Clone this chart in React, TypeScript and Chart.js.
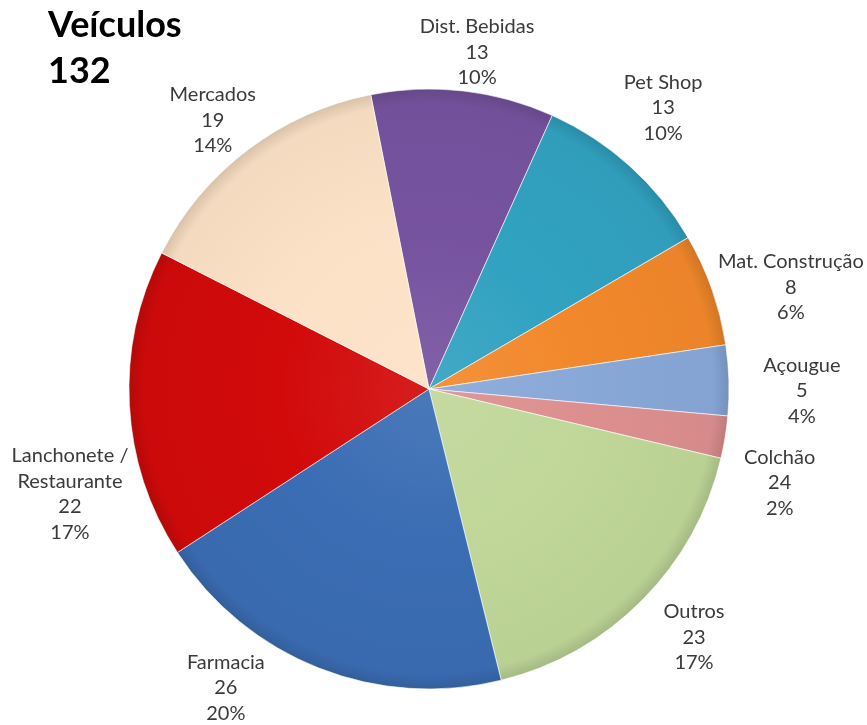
import React, { useEffect, useRef } from "react";
import { Chart, registerables } from "chart.js";

Chart.register(...registerables);

// ---- data ----
const categories = [
  "Dist. Bebidas",
  "Pet Shop",
  "Mat. Construção",
  "Açougue",
  "Colchão",
  "Outros",
  "Farmacia",
  "Lanchonete /\nRestaurante",
  "Mercados",
];
const vehicleCounts = [13, 13, 8, 5, 3, 23, 26, 22, 19];
// counts as printed in the reference's labels (Colchão is printed as "24")
const countLabels = ["13", "13", "8", "5", "24", "23", "26", "22", "19"];
const titleLines = ["Veículos", "132"];

// ---- styles ----
const sliceColors = [
  "#77539F",
  "#31A2C1",
  "#F2882B",
  "#88A8D8",
  "#DD8F8F",
  "#C0D799",
  "#3B6DB4",
  "#D20A0A",
  "#FCE2C6",
];
// label placement: angle offset (deg) from slice middle, distance as factor of radius
const labelLayout = [
  { da: 1.6, f: 1.134 },
  { da: -2.2, f: 1.22 },
  { da: 3.7, f: 1.253 },
  { da: 1.9, f: 1.243 },
  { da: 5.7, f: 1.21 },
  { da: -1.6, f: 1.21 },
  { da: 12.7, f: 1.204 },
  { da: -13.3, f: 1.247 },
  { da: -1.7, f: 1.15 },
];
const PIE_RADIUS = 300;
const LABEL_FONT = "20px Lato, 'Open Sans', sans-serif";
const TITLE_FONT = "bold 36px Lato, 'Open Sans', sans-serif";

function shade(hex: string, amt: number): string {
  const n = parseInt(hex.slice(1), 16);
  let r = (n >> 16) & 255, g = (n >> 8) & 255, b = n & 255;
  const f = (c: number) =>
    Math.round(amt >= 0 ? c + (255 - c) * amt : c * (1 + amt));
  r = f(r); g = f(g); b = f(b);
  return `rgb(${r},${g},${b})`;
}

const labelPlugin = {
  id: "sliceLabels",
  afterDatasetsDraw(chart: any) {
    const ctx = chart.ctx;
    const meta = chart.getDatasetMeta(0);
    const data = chart.data.datasets[0].data as number[];
    const total = data.reduce((a: number, b: number) => a + b, 0);
    ctx.save();
    ctx.font = LABEL_FONT;
    ctx.fillStyle = "#3A3A3A";
    ctx.textAlign = "center";
    ctx.textBaseline = "middle";
    meta.data.forEach((arc: any, i: number) => {
      const p = arc.getProps(["x", "y", "startAngle", "endAngle", "outerRadius"], true);
      const lay = labelLayout[i];
      const mid = (p.startAngle + p.endAngle) / 2 + (lay.da * Math.PI) / 180;
      const px = p.x + Math.cos(mid) * p.outerRadius * lay.f;
      const py = p.y + Math.sin(mid) * p.outerRadius * lay.f;
      const pct = Math.round((data[i] / total) * 100) + "%";
      const lines = [...(chart.data.labels[i] as string).split("\n"), countLabels[i], pct];
      const lh = 25.5;
      const y0 = py - ((lines.length - 1) / 2) * lh;
      lines.forEach((t: string, k: number) => ctx.fillText(t, px, y0 + k * lh));
    });
    // title
    ctx.font = TITLE_FONT;
    ctx.fillStyle = "#000000";
    ctx.textAlign = "left";
    ctx.textBaseline = "alphabetic";
    ctx.fillText(titleLines[0], 48, 37);
    ctx.fillText(titleLines[1], 48, 83);
    ctx.restore();
  },
};

export default function App() {
  const ref = useRef<HTMLCanvasElement>(null);
  useEffect(() => {
    if (!ref.current) return;
    const chart = new Chart(ref.current, {
      type: "pie",
      data: {
        labels: categories,
        datasets: [
          {
            data: vehicleCounts,
            backgroundColor: (c: any) => {
              const base = sliceColors[c.dataIndex];
              const area = c.chart.chartArea;
              if (!area) return base;
              const cx = (area.left + area.right) / 2;
              const cy = (area.top + area.bottom) / 2;
              const g = c.chart.ctx.createRadialGradient(cx, cy, 0, cx, cy, PIE_RADIUS);
              g.addColorStop(0, shade(base, 0.08));
              g.addColorStop(0.5, base);
              g.addColorStop(0.95, shade(base, -0.03));
              g.addColorStop(1, shade(base, -0.14));
              return g;
            },
            borderColor: "rgba(255,255,255,0.6)",
            borderWidth: 1,
            radius: PIE_RADIUS,
          } as any,
        ],
      },
      options: {
        animation: false,
        responsive: false,
        events: [],
        rotation: -11.2,
        layout: { padding: { left: 0, right: 9, top: 78, bottom: 25 } },
        plugins: {
          legend: { display: false },
          tooltip: { enabled: false },
        },
      },
      plugins: [labelPlugin],
    });
    return () => chart.destroy();
  }, []);
  return (
    <canvas
      ref={ref}
      width={867}
      height={725}
      style={{ position: "fixed", left: 0, top: 0, display: "block", background: "#fff" }}
    />
  );
}
